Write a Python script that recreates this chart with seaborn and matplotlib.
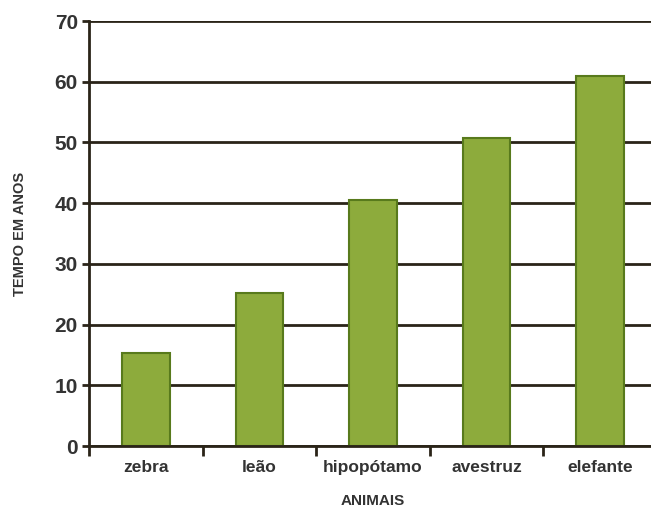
"""Bar chart: tempo de vida dos animais."""

import matplotlib
matplotlib.use("Agg")
import matplotlib.pyplot as plt
import pandas as pd
import seaborn as sns
from matplotlib.ticker import FixedLocator

animais = ["zebra", "leão", "hipopótamo", "avestruz", "elefante"]
anos = [15.3, 25.2, 40.6, 50.8, 61.0]
y_ticks = [0, 10, 20, 30, 40, 50, 60, 70]

df = pd.DataFrame({"animal": animais, "anos": anos})

sns.set_style("white")
plt.rcParams["font.family"] = ["Liberation Sans Narrow", "Liberation Sans", "DejaVu Sans"]

fig = plt.figure(figsize=(6.51, 5.17), dpi=100)
ax = fig.add_axes([0.1367, 0.1373, 0.8725, 0.822])

sns.barplot(
    data=df, x="animal", y="anos", color="#8dab3c", width=0.42,
    edgecolor="#587a1c", linewidth=1.5, saturation=1, ax=ax,
)

ax.set_ylim(0, 70)
ax.set_xlim(-0.5, 4.5)
ax.set_yticks(y_ticks)
ax.set_axisbelow(True)
ax.yaxis.grid(True, color="#2a2418", linewidth=2)
ax.xaxis.grid(False)

for side in ["top", "right"]:
    ax.spines[side].set_visible(False)
for side in ["left", "bottom"]:
    ax.spines[side].set_color("#2a2418")
    ax.spines[side].set_linewidth(2)

ax.tick_params(axis="y", left=True, length=5, width=2, color="#2a2418", pad=3,
               labelsize=15, labelcolor="#333333")
ax.tick_params(axis="x", which="major", bottom=True, length=0, pad=10,
               labelsize=12.5, labelcolor="#333333")
ax.xaxis.set_minor_locator(FixedLocator([-0.5, 0.5, 1.5, 2.5, 3.5]))
ax.tick_params(axis="x", which="minor", bottom=True, length=7, width=2, color="#2a2418")
for lbl in ax.get_yticklabels():
    lbl.set_fontweight("bold")
    lbl.set_family(["Liberation Sans", "DejaVu Sans"])
for lbl in ax.get_xticklabels():
    lbl.set_fontweight("bold")

ax.set_xlabel("ANIMAIS", fontsize=11, fontweight="bold", color="#333333", labelpad=14)
ax.set_ylabel("TEMPO EM ANOS", fontsize=10.5, fontweight="bold", color="#333333", labelpad=20)

plt.savefig("out.png", dpi=100)
plt.close(fig)
